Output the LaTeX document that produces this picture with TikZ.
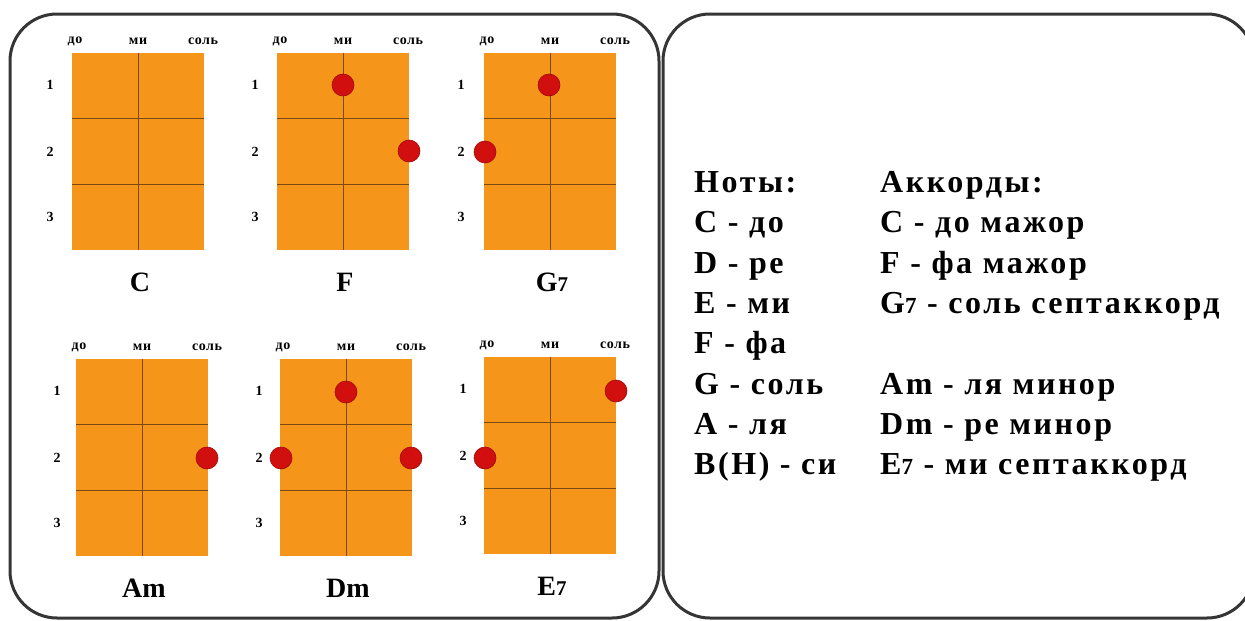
\documentclass[tikz,border=0pt]{standalone}
\usepackage{fontspec}
\setmainfont{Liberation Serif}
\newfontfamily\txtfont[LetterSpace=8]{Liberation Serif}
\newfontfamily\lblfont[LetterSpace=4]{Liberation Serif}
\definecolor{frameC}{HTML}{353535}
\definecolor{fretboard}{HTML}{F5951A}
\definecolor{fretline}{HTML}{7A4A12}
\definecolor{dotC}{HTML}{D20F0F}
\definecolor{dotB}{HTML}{A00808}
\newcommand\sv[1]{{\fontsize{#1}{#1}\selectfont 7}}
\begin{document}
\begin{tikzpicture}[x=1pt,y=-1pt,
  frame/.style={draw=frameC,line width=3pt,rounded corners=47pt},
  board/.style={fill=fretboard,draw=none,minimum width=132pt,minimum height=197pt,inner sep=0pt,anchor=north west},
  fret/.style={draw=fretline,line width=0.9pt},
  fdot/.style={circle,fill=dotC,draw=dotB,line width=0.6pt,inner sep=0pt,minimum size=22pt},
  strlab/.style={font=\lblfont\bfseries\fontsize{14}{14}\selectfont,inner sep=0pt},
  rowlab/.style={font=\bfseries\fontsize{14}{14}\selectfont,inner sep=0pt},
  chname/.style={font=\bfseries\fontsize{28}{28}\selectfont,inner sep=0pt},
  txt/.style={font=\txtfont\bfseries\fontsize{32}{32}\selectfont,inner sep=0pt,anchor=base west}]
\useasboundingbox (0,0) rectangle (1245,621);
\path[frame] (10,14) rectangle (659,618);
\path[frame] (663,14) rectangle (1254,618);
% chord boards
\foreach \n/\lx/\ty/\rx/\lab in {C/72/53/22/{C},F/277/53/22/{F},G/484/53/23/{G\sv{21}},Am/76/359/19/{Am},Dm/280/359/21/{Dm},E/484/357/21/{E\sv{21}}}{
  \node[board] (b\n) at (\lx,\ty) {};
  \draw[fret] (\lx+66,\ty) -- (\lx+66,\ty+197);
  \draw[fret] (\lx,\ty+65.7) -- (\lx+132,\ty+65.7);
  \draw[fret] (\lx,\ty+131.3) -- (\lx+132,\ty+131.3);
  \node[strlab] (s1\n) at (\lx+3,\ty-12) {до};
  \node[strlab] (s2\n) at (\lx+66,\ty-12) {ми};
  \node[strlab] (s3\n) at (\lx+131,\ty-12) {соль};
  \node[rowlab] (r1\n) at (\lx-\rx,\ty+32) {1};
  \node[rowlab] (r2\n) at (\lx-\rx,\ty+99) {2};
  \node[rowlab] (r3\n) at (\lx-\rx,\ty+164) {3};
  \node[chname] (n\n) at (\lx+68,\ty+229) {\lab};
}
% finger dots
\node[fdot] (dF1) at (343,85) {};
\node[fdot] (dF2) at (409,151) {};
\node[fdot] (dG1) at (549,85) {};
\node[fdot] (dG2) at (485,152) {};
\node[fdot] (dAm1) at (207,458) {};
\node[fdot] (dDm1) at (346,392) {};
\node[fdot] (dDm2) at (281,458) {};
\node[fdot] (dDm3) at (411,458) {};
\node[fdot] (dE1) at (616,391) {};
\node[fdot] (dE2) at (485,458) {};
% text
\node[txt] (t0) at (694,192) {Ноты:};
\node[txt] (t1) at (694,232) {C - до};
\node[txt] (t2) at (694,273) {D - ре};
\node[txt] (t3) at (694,313) {E - ми};
\node[txt] (t4) at (694,353) {F - фа};
\node[txt] (t5) at (694,394) {G - соль};
\node[txt] (t6) at (694,434) {A - ля};
\node[txt] (t7) at (694,474) {B(H) - си};
\node[txt] (u0) at (880,192) {Аккорды:};
\node[txt] (u1) at (880,232) {C - до мажор};
\node[txt] (u2) at (880,273) {F - фа мажор};
\node[txt] (u3) at (880,313) {G\sv{23} - соль септаккорд};
\node[txt] (u5) at (880,394) {Am - ля минор};
\node[txt] (u6) at (880,434) {Dm - ре минор};
\node[txt] (u7) at (880,474) {E\sv{23} - ми септаккорд};
\end{tikzpicture}
\end{document}
